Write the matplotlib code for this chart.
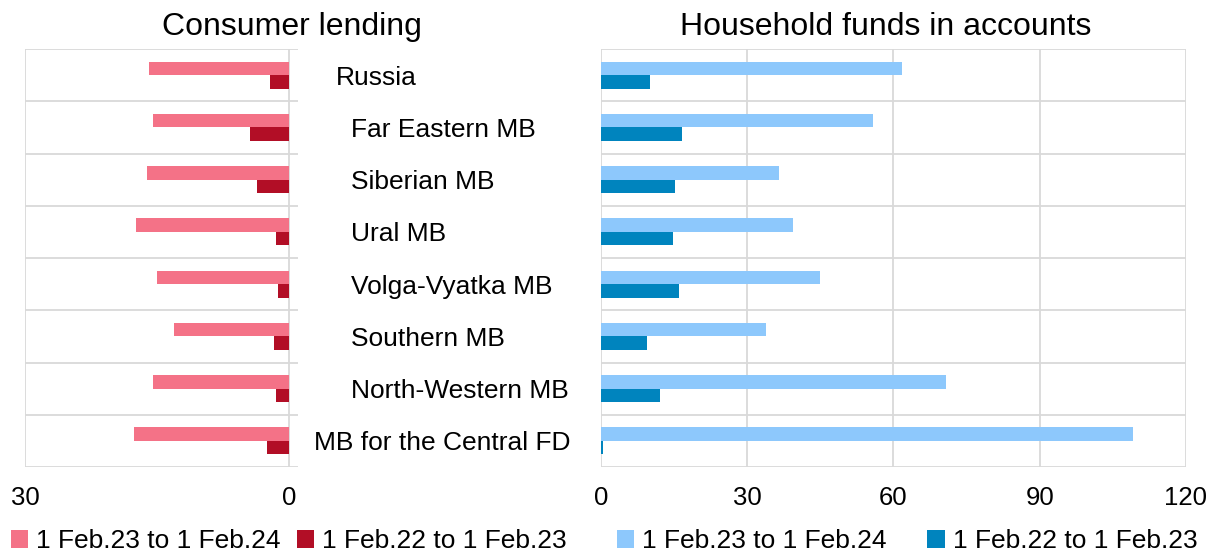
import matplotlib
matplotlib.use("Agg")
import matplotlib.pyplot as plt
import numpy as np

plt.rcParams['font.family'] = ['Liberation Sans', 'DejaVu Sans']

categories = ["Russia", "Far Eastern MB", "Siberian MB", "Ural MB",
              "Volga-Vyatka MB", "Southern MB", "North-Western MB",
              "MB for the Central FD"]
series_names = ["1 Feb.23 to 1 Feb.24", "1 Feb.22 to 1 Feb.23"]

lending_23_24 = [15.9, 15.5, 16.2, 17.4, 15.0, 13.1, 15.5, 17.6]
lending_22_23 = [2.2, 4.5, 3.6, 1.5, 1.3, 1.7, 1.5, 2.5]

funds_23_24 = [61.7, 55.8, 36.6, 39.4, 45.0, 33.8, 70.8, 109.2]
funds_22_23 = [10.0, 16.7, 15.3, 14.8, 16.1, 9.5, 12.1, 0.5]

left_ticks = [30, 0]
right_ticks = [0, 30, 60, 90, 120]

W, H = 1220, 554
fig = plt.figure(figsize=(W / 100, H / 100), dpi=100)

GRID = "#d9d9d9"
FS = 18.5
LFS = 19

def fx(px):
    return px / W

def fy(py):
    return 1 - py / H

bottom = fy(467)
height = fy(49) - fy(467)

axL = fig.add_axes([fx(25), bottom, fx(298) - fx(25), height])
axR = fig.add_axes([fx(600.8), bottom, fx(1186) - fx(600.8), height])

n = len(categories)
centers = np.arange(n)[::-1] + 0.5  # Russia at top
bh = 0.26

bl1 = axL.barh(centers + bh / 2, lending_23_24, height=bh, color="#F47287", label=series_names[0])
bl2 = axL.barh(centers - bh / 2, lending_22_23, height=bh, color="#B20E26", label=series_names[1])
br1 = axR.barh(centers + bh / 2, funds_23_24, height=bh, color="#8DC8FC", label=series_names[0])
br2 = axR.barh(centers - bh / 2, funds_22_23, height=bh, color="#0084BE", label=series_names[1])

for ax in (axL, axR):
    ax.set_ylim(0, n)
    ax.set_yticks(np.arange(0, n + 1))
    ax.set_yticklabels([])
    ax.tick_params(axis="y", length=0)
    ax.tick_params(axis="x", length=0, labelsize=FS, pad=14)
    ax.grid(axis="y", color=GRID, linewidth=1.3)
    ax.set_axisbelow(True)
    for s in ax.spines.values():
        s.set_visible(False)

# Left panel
axL.set_xlim(30, -1)
axL.set_xticks(left_ticks)
axL.set_xticklabels([str(t) for t in left_ticks])
for xv in left_ticks:
    axL.axvline(xv, color=GRID, linewidth=1.3, zorder=0.5)

# Right panel
axR.set_xlim(0, 120)
axR.set_xticks(right_ticks)
axR.set_xticklabels([str(t) for t in right_ticks])
axR.grid(axis="x", color=GRID, linewidth=1.3)

# Titles
fig.text(fx(292), fy(35), "Consumer lending", ha="center", va="baseline", fontsize=23)
fig.text(fx(886), fy(35), "Household funds in accounts", ha="center", va="baseline", fontsize=23)

# Category labels
label_x = [336, 351, 351, 351, 351, 351, 351, 314]
row_h = (467 - 49) / n
cap_half = LFS * 100 / 72 * 0.716 / 2
for i, (cat, lx) in enumerate(zip(categories, label_x)):
    yc = 49 + row_h * (i + 0.5)
    fig.text(fx(lx), fy(yc + cap_half), cat, ha="left", va="baseline", fontsize=LFS)

# Legends
legkw = dict(loc="center left", ncol=2, frameon=False, fontsize=LFS,
             handlelength=0.65, handleheight=0.65, handletextpad=0.3,
             borderaxespad=0, borderpad=0)
fig.legend(handles=[bl1, bl2], bbox_to_anchor=(fx(11), fy(541)),
           columnspacing=0.62, **legkw)
fig.legend(handles=[br1, br2], bbox_to_anchor=(fx(617), fy(541)),
           columnspacing=1.55, **legkw)

fig.savefig("out.png", dpi=100)
